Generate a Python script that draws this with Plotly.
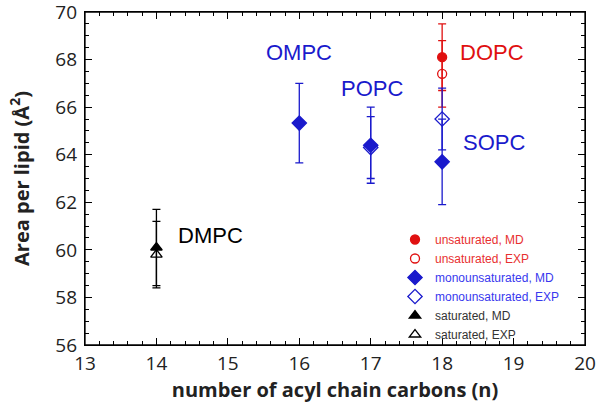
import plotly.graph_objects as go

# data
n_dmpc = [14]
dmpc_md = [60.1]
dmpc_md_err = [1.6]
dmpc_exp = [59.8]
dmpc_exp_err = [1.4]

n_mono_md = [16, 17, 18]
mono_md = [65.33, 64.4, 63.7]
mono_md_err = [1.67, 1.6, 1.8]
n_mono_exp = [17, 18]
mono_exp = [64.3, 65.5]
mono_exp_err = [1.3, 1.3]

n_dopc = [18]
dopc_md = [68.1]
dopc_md_err = [1.4]
dopc_exp = [67.4]
dopc_exp_err = [1.4]

lipid_names = ["DMPC", "OMPC", "POPC", "DOPC", "SOPC"]
lipid_x = [14.76, 16.0, 17.02, 18.7, 18.73]
lipid_y = [60.6, 68.3, 66.8, 68.3, 64.5]
lipid_col = ["black", "#1a1acc", "#1a1acc", "#e01010", "#1a1acc"]

RED = "#e01010"
BLUE = "#1a1acc"
BLACK = "black"


def pt(x, y, err, sym, size, col, name, legcol):
    return go.Scatter(
        x=x, y=y, mode="markers",
        marker=dict(symbol=sym, size=size, color=col,
                    line=dict(color=col, width=1.3)),
        error_y=dict(type="data", array=err, visible=True,
                     color=col, thickness=1.3, width=4),
        name="<span style='color:%s'>%s</span>" % (legcol, name),
    )


fig = go.Figure()
fig.add_trace(pt(n_dopc, dopc_md, dopc_md_err, "circle", 9, RED,
                 "unsaturated, MD", "#e83030"))
fig.add_trace(pt(n_dopc, dopc_exp, dopc_exp_err, "circle-open", 9, RED,
                 "unsaturated, EXP", "#e83030"))
fig.add_trace(pt(n_mono_md, mono_md, mono_md_err, "diamond", 11, BLUE,
                 "monounsaturated, MD", "#3838ee"))
fig.add_trace(pt(n_mono_exp, mono_exp, mono_exp_err, "diamond-open", 11, BLUE,
                 "monounsaturated, EXP", "#3838ee"))
fig.add_trace(pt(n_dmpc, dmpc_md, dmpc_md_err, "triangle-up", 10, BLACK,
                 "saturated, MD", "#333333"))
fig.add_trace(pt(n_dmpc, dmpc_exp, dmpc_exp_err, "triangle-up-open", 10, BLACK,
                 "saturated, EXP", "#333333"))

for name, x, y, c in zip(lipid_names, lipid_x, lipid_y, lipid_col):
    fig.add_annotation(x=x, y=y, text=name, showarrow=False, xanchor="center",
                       font=dict(family="Liberation Sans", size=22, color=c))

# frame round the plot area
fig.add_shape(type="rect", xref="paper", yref="paper", x0=0, x1=1, y0=0, y1=1,
              line=dict(color="black", width=1.3), layer="above")

ax = dict(showline=True, linecolor="black", linewidth=1.3, mirror="allticks",
          ticks="inside", ticklen=7, tickwidth=1.3, tickcolor="black",
          showgrid=False, zeroline=False, automargin=False,
          ticklabeloverflow="allow",
          tickfont=dict(family="Open Sans", size=19, color="#222"))

fig.update_layout(
    xaxis=dict(range=[13, 20], dtick=1, ticklabelstandoff=1,
               minor=dict(dtick=0.2, ticks="inside", ticklen=4, tickcolor="black"),
               title=dict(text="<b>number of acyl chain carbons (n)</b>", standoff=1,
                          font=dict(family="Open Sans", size=20, color="#222")),
               **ax),
    yaxis=dict(range=[56, 70], dtick=2, ticklabelstandoff=3,
               minor=dict(dtick=0.5, ticks="inside", ticklen=4, tickcolor="black"),
               title=dict(text="<b>Area per lipid (Å<sup>2</sup>)</b>", standoff=20,
                          font=dict(family="Open Sans", size=20, color="#222")),
               **ax),
    width=600, height=407,
    margin=dict(l=85, r=15, t=12, b=62),
    plot_bgcolor="white", paper_bgcolor="white",
    legend=dict(x=0.62, y=-0.012, xanchor="left", yanchor="bottom",
                bgcolor="rgba(0,0,0,0)", tracegroupgap=0,
                font=dict(family="Liberation Sans Narrow, Liberation Sans", size=12)),
)

# drop the default 8px body margin so the figure sits at the page corner
fig.write_html("out.html", config={"displayModeBar": False},
               post_script="document.body.style.margin='0';")
